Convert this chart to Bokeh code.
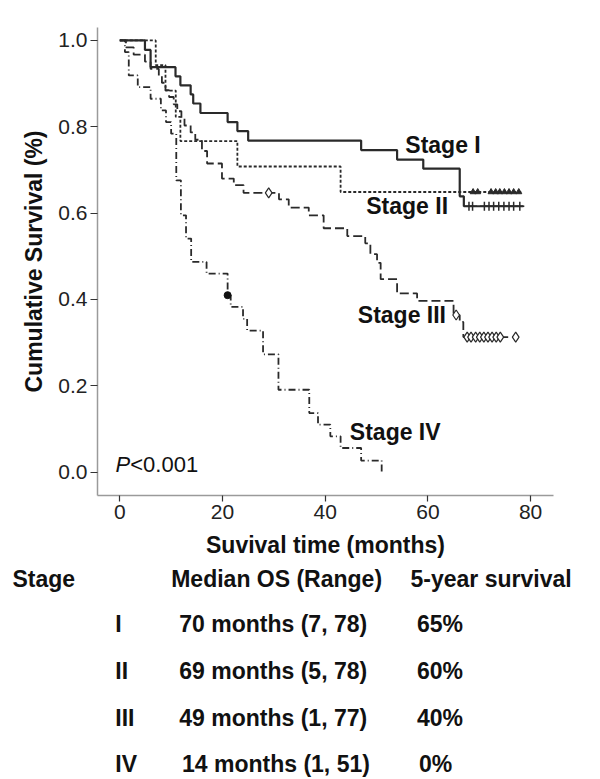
import numpy as np
from bokeh.plotting import figure
from bokeh.layouts import column
from bokeh.models import Range1d, FixedTicker, Label
from bokeh.core.properties import value
from bokeh.embed import file_html
from bokeh.resources import INLINE

# ---------------- data ----------------
stage1_t = [0, 4.9, 6.0, 10.85, 11.8, 13.8, 14.3, 15.7, 21.0, 22.9, 25.0, 47.0, 54.0, 59.1, 66.2, 67.0, 78.6]
stage1_s = [1.0, 0.978, 0.938, 0.917, 0.896, 0.875, 0.854, 0.832, 0.811, 0.790, 0.768, 0.746, 0.724, 0.703, 0.639, 0.616, 0.616]
stage1_cens = [68.0, 68.7, 71.0, 71.9, 72.8, 73.8, 74.8, 75.8, 76.7, 77.9]

stage2_t = [0, 7.0, 8.9, 10.9, 11.8, 22.9, 43.0, 78.4]
stage2_s = [1.0, 0.943, 0.884, 0.823, 0.767, 0.708, 0.649, 0.649]
stage2_cens = [68.8, 69.7, 72.3, 73.2, 74.0, 74.9, 75.8, 76.7, 77.7]

stage3_t = [0, 1.2, 2.7, 4.9, 6.0, 7.6, 8.2, 8.9, 9.6, 10.5, 11.2, 12.0, 12.6, 13.8, 14.7, 16.0, 17.0,
            19.9, 22.2, 24.1, 31.0, 32.9, 36.8, 39.7, 44.3, 47.8, 48.8, 50.1, 50.8, 54.0, 57.9, 65.0,
            66.2, 66.9, 77.1]
stage3_s = [1.0, 0.984, 0.967, 0.951, 0.934, 0.918, 0.902, 0.885, 0.869, 0.852, 0.836, 0.820, 0.803,
            0.787, 0.770, 0.744, 0.715, 0.680, 0.665, 0.647, 0.632, 0.613, 0.595, 0.565, 0.547, 0.530,
            0.505, 0.485, 0.447, 0.414, 0.397, 0.364, 0.348, 0.313, 0.313]
stage3_cens = [29.0, 65.5, 67.65, 68.4, 69.3, 70.1, 70.9, 71.7, 72.5, 73.3, 74.1, 77.1]

stage4_t = [0, 1.0, 1.75, 3.5, 6.0, 8.0, 9.0, 10.0, 11.0, 11.9, 12.9, 13.9, 16.9, 21.0, 21.6, 24.0,
            24.8, 27.9, 30.9, 36.9, 38.6, 41.0, 43.0, 47.0, 51.0]
stage4_s = [1.0, 0.973, 0.919, 0.892, 0.865, 0.838, 0.811, 0.784, 0.676, 0.595, 0.541, 0.487, 0.460,
            0.410, 0.383, 0.355, 0.328, 0.273, 0.191, 0.137, 0.110, 0.083, 0.056, 0.027, 0.0]
stage4_cens = [21.0]

stage_names = ["Stage I", "Stage II", "Stage III", "Stage IV"]
x_ticks = [0, 20, 40, 60, 80]
y_ticks = [0.0, 0.2, 0.4, 0.6, 0.8, 1.0]

table_header = ["Stage", "Median OS (Range)", "5-year survival"]
table_stage = ["I", "II", "III", "IV"]
table_median = ["70 months (7, 78)", "69 months (5, 78)", "49 months (1, 77)", "14 months (1, 51)"]
table_5yr = ["65%", "60%", "40%", "0%"]
p_text = "<0.001"


def surv_at(times, surv, when):
    idx = np.searchsorted(np.asarray(times), np.asarray(when), side="right") - 1
    return list(np.asarray(surv)[idx])


FONT = "Liberation Sans"
INK = "#222222"
LINE = "#2a2a2a"
TOP = 560  # height of the chart part; the table figure fills the rest

# ---------------- survival chart ----------------
p = figure(width=600, height=TOP, output_backend="svg", toolbar_location=None,
           x_range=Range1d(-4.34, 84.46), y_range=Range1d(-0.054, 1.03),
           min_border_left=97, min_border_right=47, min_border_top=27, min_border_bottom=TOP - 496)
p.outline_line_color = None
p.grid.visible = False
p.background_fill_color = "white"
p.border_fill_color = "white"

p.step(stage1_t, stage1_s, mode="after", line_color=LINE, line_width=2.2)
p.step(stage2_t, stage2_s, mode="after", line_color=LINE, line_width=1.8, line_dash="3 2")
p.step(stage3_t, stage3_s, mode="after", line_color=LINE, line_width=1.8, line_dash="9 4")
p.step(stage4_t, stage4_s, mode="after", line_color=LINE, line_width=1.8, line_dash="7 3 1 3")

p.scatter(stage1_cens, surv_at(stage1_t, stage1_s, stage1_cens), marker="cross", size=9,
          line_color=LINE, line_width=1.5)
p.scatter(stage2_cens, surv_at(stage2_t, stage2_s, stage2_cens), marker="triangle", size=6,
          line_color=LINE, fill_color=LINE, line_width=1)
p.scatter(stage3_cens, surv_at(stage3_t, stage3_s, stage3_cens), marker="diamond", size=10,
          line_color=LINE, fill_color="white", line_width=1.2)
p.scatter(stage4_cens, surv_at(stage4_t, stage4_s, stage4_cens), marker="circle", size=7,
          line_color="#111111", fill_color="#111111")

for ax in (p.xaxis[0], p.yaxis[0]):
    ax.axis_line_color = "#9a9a9a"
    ax.axis_line_width = 1.5
    ax.major_tick_line_color = "#333333"
    ax.major_tick_line_width = 1.2
    ax.major_tick_in = 0
    ax.minor_tick_line_color = None
    ax.major_label_text_font = FONT
    ax.major_label_text_font_size = "21px"
    ax.major_label_text_color = INK
    ax.axis_label_text_font = FONT
    ax.axis_label_text_font_size = "23px"
    ax.axis_label_text_font_style = "bold"
    ax.axis_label_text_color = "#111111"

p.xaxis.ticker = FixedTicker(ticks=x_ticks)
p.yaxis.ticker = FixedTicker(ticks=y_ticks)
p.yaxis.major_label_overrides = {v: f"{v:.1f}" for v in y_ticks}
p.xaxis.major_tick_out = 6
p.yaxis.major_tick_out = 7
p.xaxis.major_label_standoff = 3
p.yaxis.major_label_standoff = 3
p.xaxis.axis_label = "Suvival time (months)"
p.yaxis.axis_label = "Cumulative Survival (%)"
p.xaxis.axis_label_standoff = 10
p.yaxis.axis_label_standoff = 8

lab_pos = [(55.6, 0.759), (48.0, 0.616), (46.35, 0.364), (44.8, 0.094)]
for name, (lx, ly) in zip(stage_names, lab_pos):
    p.add_layout(Label(x=lx, y=ly, text=name, text_font=FONT, text_font_size="23px",
                       text_font_style="bold", text_color="#111111",
                       text_align="left", text_baseline="middle"))

p.add_layout(Label(x=-0.84, y=0.017, text="P", text_font=FONT, text_font_size="22px",
                   text_font_style="italic", text_color="#111111",
                   text_align="left", text_baseline="middle"))
p.add_layout(Label(x=2.03, y=0.017, text=p_text, text_font=FONT, text_font_size="22px",
                   text_color="#111111", text_align="left", text_baseline="middle"))

# ---------------- summary table (pixel-like coordinates, y downward) ----------------
t = figure(width=600, height=779 - TOP, output_backend="svg", toolbar_location=None,
           x_range=Range1d(0, 600), y_range=Range1d(779, TOP),
           x_axis_location=None, y_axis_location=None,
           min_border_left=0, min_border_right=0, min_border_top=0, min_border_bottom=0)
t.grid.visible = False
t.outline_line_color = None
t.border_fill_color = "white"

for fig in (p, t):
    try:
        fig.frame_align = False
    except Exception:
        pass

txt_style = dict(text_font=value(FONT), text_font_size="23px", text_font_style="bold",
                 text_color="#111111", text_align="left", text_baseline="middle")
t.text(x=[12, 170.7, 410], y=[578] * 3, text=table_header, **txt_style)
row_y = [623.8, 670.5, 717, 763]
t.text(x=[114.8] * 4, y=row_y, text=table_stage, **txt_style)
t.text(x=[178.8, 178.8, 178.8, 181.5], y=row_y, text=table_median, **txt_style)
t.text(x=[416.5, 416.5, 416.5, 418.5], y=row_y, text=table_5yr, **txt_style)

layout = column(p, t, spacing=0)
open("out.html", "w").write(file_html(layout, INLINE))
